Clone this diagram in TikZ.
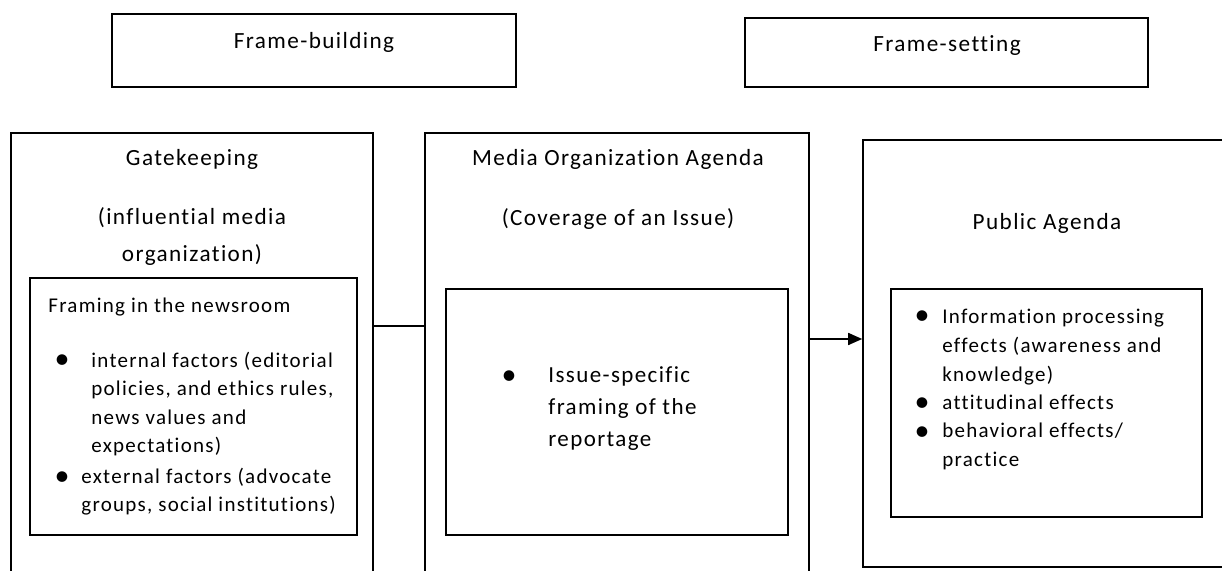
\documentclass[tikz,border=0pt]{standalone}
\usepackage{fontspec}
\setmainfont{Carlito}[LetterSpace=6,Ligatures=NoCommon]
\usetikzlibrary{arrows.meta,fit}
\begin{document}
\begin{tikzpicture}[x=0.5pt,y=-0.5pt,
  box/.style={draw=black,line width=0.8pt,rectangle,inner sep=0pt},
  title/.style={font=\fontsize{11.6}{18.5}\selectfont,align=center,inner sep=0pt,anchor=base},
  smalltext/.style={font=\fontsize{10.5}{14.25}\selectfont,align=left,inner sep=0pt,anchor=base west},
  righttext/.style={font=\fontsize{10.5}{14.5}\selectfont,align=left,inner sep=0pt,anchor=base west},
  midtext/.style={font=\fontsize{11.5}{16}\selectfont,align=left,inner sep=0pt,anchor=base west},
  bul/.style={font=\fontsize{15}{16}\selectfont,inner sep=0pt,anchor=base},
  link/.style={draw=black,line width=0.8pt},
  arr/.style={link,-{Triangle[length=7pt,width=6pt]}}
]
\useasboundingbox (0,0) rectangle (1222,571);
\clip (0,0) rectangle (1222,571);
% boxes
\node[box,fit={(112,14) (516,87)}] (fb) {};
\node[box,fit={(745,18) (1148,87)}] (fs) {};
\node[box,fit={(11,133) (373,640)}] (gk) {};
\node[box,fit={(425,133) (809,640)}] (mo) {};
\node[box,fit={(863,140) (1260,567)}] (pa) {};
\node[box,fit={(30,278) (357,535)}] (fr) {};
\node[box,fit={(446,289) (788,535)}] (is) {};
\node[box,fit={(891,289) (1202,517)}] (ef) {};
% titles (multi-line nodes are placed at the baseline of their last line)
\node[title] (fbt) at (314,49) {Frame-building};
\node[title] (fst) at (947,52) {Frame-setting};
\node[title] (gkt) at (192,166) {Gatekeeping};
\node[title] (gks) at (192,262) {(influential media\\organization)};
\node[title] (mot) at (618,166) {Media Organization Agenda};
\node[title] (mos) at (618,226) {(Coverage of an Issue)};
\node[title] (pat) at (1047,230) {Public Agenda};
% left inner box
\node[smalltext] (frt) at (48,313) {Framing in the newsroom};
\node[bul] (b1) at (62,369) {\textbullet};
\node[smalltext] (i1) at (91,453) {internal factors (editorial\\policies, and ethics rules,\\news values and\\expectations)};
\node[bul] (b2) at (62,486) {\textbullet};
\node[smalltext,font=\fontsize{10.5}{14}\selectfont] (i2) at (81,512) {external factors (advocate\\groups, social institutions)};
% middle inner box
\node[bul] (b3) at (509,385) {\textbullet};
\node[midtext] (i3) at (548,447) {Issue-specific\\framing of the\\reportage};
% right inner box
\node[bul] (b4) at (922,325) {\textbullet};
\node[righttext] (i4) at (942,382) {Information processing\\effects (awareness and\\knowledge)};
\node[bul] (b5) at (922,412) {\textbullet};
\node[righttext] (i5) at (942,410) {attitudinal effects};
\node[bul] (b6) at (922,441) {\textbullet};
\node[righttext] (i6) at (942,467) {behavioral effects/\\practice};
% connectors
\coordinate (ly) at (0,326);
\coordinate (ay) at (0,339);
\draw[link] (gk.east |- ly) -- (mo.west |- ly);
\draw[arr] (mo.east |- ay) -- (pa.west |- ay);
\end{tikzpicture}
\end{document}
